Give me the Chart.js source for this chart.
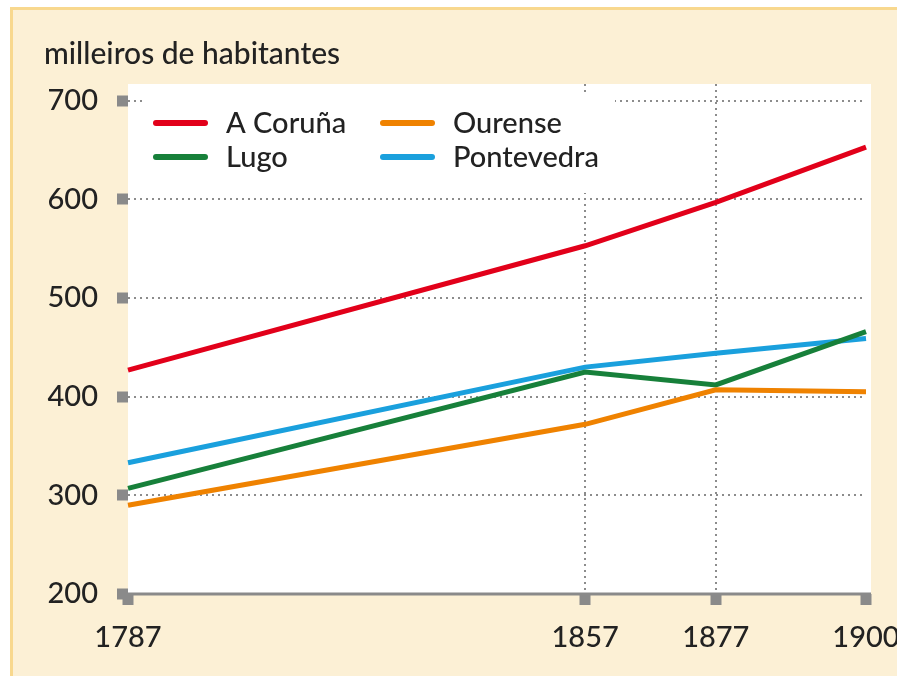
<!DOCTYPE html>
<html>
<head>
<meta charset="utf-8">
<script src="https://cdn.jsdelivr.net/npm/chart.js@4/dist/chart.umd.min.js"></script>
<style>
  html, body { margin: 0; padding: 0; background: #fff; }
  #frame {
    position: absolute; left: 10px; top: 7px; width: 887px; height: 669px;
    background: #fcf0d5; border-top: 3px solid #f8d88e; border-left: 3px solid #f8d88e;
    box-sizing: border-box;
  }
  #wrap { position: absolute; left: 0; top: 0; width: 897px; height: 676px; }
</style>
</head>
<body>
<div id="frame"></div>
<div id="wrap"><canvas id="viz1" width="897" height="676"></canvas></div>
<script>
// datos (milleiros de habitantes)
const years = [1787, 1857, 1877, 1900];
const yTicks = [200, 300, 400, 500, 600, 700];
const coruna = [427, 553, 597, 653];
const ourense = [290, 372, 407, 405];
const lugo = [307, 425, 412, 466];
const pontevedra = [333, 430, 444, 459];

const seriesNames = ['A Coruña', 'Ourense', 'Lugo', 'Pontevedra'];
const seriesColors = ['#e2001a', '#ef8200', '#17803a', '#1aa0dd'];
const FONT = 'Lato';
const WEIGHT = '500';

function pts(arr) {
    return years.map((y, i) => ({ x: y, y: arr[i] }));
}

// fondo blanco del área, título y leyenda
const decor = {
    id: 'decor',
    beforeDraw(chart) {
        const { ctx, chartArea: a } = chart;
        ctx.save();
        ctx.fillStyle = '#fff';
        ctx.fillRect(a.left, a.top, a.right - a.left + 5, a.bottom - a.top);
        ctx.fillStyle = '#222';
        ctx.font = WEIGHT + ' 30px ' + FONT;
        ctx.textBaseline = 'alphabetic';
        ctx.fillText('milleiros de habitantes', 44, 64);
        ctx.restore();
    },
    beforeDatasetsDraw(chart) {
        const { ctx, chartArea: a } = chart;
        ctx.save();
        // eje x
        ctx.strokeStyle = '#8a8a8a';
        ctx.lineWidth = 3;
        ctx.beginPath();
        ctx.moveTo(a.left, a.bottom);
        ctx.lineTo(a.right + 5, a.bottom);
        ctx.stroke();
        // leyenda
        ctx.fillStyle = '#fff';
        ctx.fillRect(144, 96, 471, 97);
        const pos = [[153, 123], [380, 123], [153, 157], [380, 157]];
        chart.data.datasets.forEach((ds, i) => {
            const [x, y] = pos[i];
            ctx.strokeStyle = ds.borderColor;
            ctx.lineWidth = 6;
            ctx.lineCap = 'round';
            ctx.beginPath();
            ctx.moveTo(x + 3, y);
            ctx.lineTo(x + 52, y);
            ctx.stroke();
            ctx.fillStyle = '#222';
            ctx.font = WEIGHT + ' 29px ' + FONT;
            ctx.textBaseline = 'middle';
            ctx.fillText(ds.label, x + 73, y + 1);
        });
        ctx.restore();
    }
};

const ctx1 = document.getElementById('viz1').getContext('2d');
const chart1 = new Chart(ctx1, {
    type: 'line',
    data: {
        datasets: [coruna, ourense, lugo, pontevedra].map((arr, i) => ({
            label: seriesNames[i],
            data: pts(arr),
            borderColor: seriesColors[i],
            backgroundColor: seriesColors[i],
            borderWidth: 5,
            pointRadius: 0,
            tension: 0,
            clip: false
        }))
    },
    options: {
        responsive: false,
        animation: false,
        layout: { padding: { left: 0, top: 84, right: 31, bottom: 0 } },
        plugins: {
            legend: { display: false },
            title: { display: false },
            tooltip: { enabled: false }
        },
        scales: {
            x: {
                type: 'linear',
                min: 1787,
                max: 1900,
                afterBuildTicks: s => { s.ticks = years.map(v => ({ value: v })); },
                afterFit: s => { s.height = 82; s.paddingRight = 0; s.paddingLeft = 0; },
                border: { display: false, dash: [2, 4] },
                grid: {
                    lineWidth: 2,
                    color: c => (c.tick && (c.tick.value === 1857 || c.tick.value === 1877)) ? '#8c8c8c' : 'rgba(0,0,0,0)',
                    tickColor: '#8a8a8a',
                    tickLength: 11,
                    tickWidth: 11
                },
                ticks: {
                    color: '#222',
                    font: { family: FONT, size: 29, weight: WEIGHT },
                    padding: 15,
                    maxRotation: 0,
                    callback: v => String(v)
                }
            },
            y: {
                min: 200,
                max: 717,
                afterBuildTicks: s => { s.ticks = yTicks.map(v => ({ value: v })); },
                afterFit: s => { s.width = 128; },
                border: { display: false, dash: [2, 4] },
                grid: {
                    lineWidth: 2,
                    color: c => (c.tick && c.tick.value !== 200) ? '#8c8c8c' : 'rgba(0,0,0,0)',
                    tickColor: '#8a8a8a',
                    tickLength: 11,
                    tickWidth: 11
                },
                ticks: {
                    color: '#222',
                    font: { family: FONT, size: 29, weight: WEIGHT },
                    padding: 19
                }
            }
        }
    },
    plugins: [decor]
});
</script>
</body>
</html>
